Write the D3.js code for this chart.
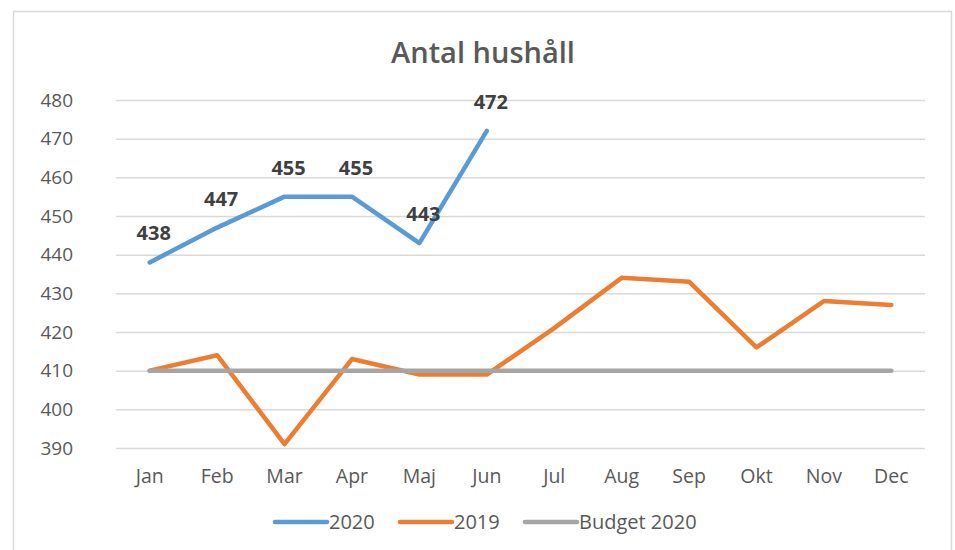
<!DOCTYPE html>
<html><head><meta charset="utf-8">
<script src="https://cdn.jsdelivr.net/npm/d3@7"></script>
<style>body{margin:0;background:#fff}svg{display:block}text{font-family:"Open Sans",sans-serif}</style>
</head><body>
<svg id="c" width="955" height="550"></svg>
<script>
const months = ["Jan","Feb","Mar","Apr","Maj","Jun","Jul","Aug","Sep","Okt","Nov","Dec"];
const values2020 = [438,447,455,455,443,472];
const values2019 = [410,414,391,413,409,409,421,434,433,416,428,427];
const budget2020 = [410,410,410,410,410,410,410,410,410,410,410,410];
const yTicks = [390,400,410,420,430,440,450,460,470,480];
const title = "Antal hushåll";
const seriesNames = ["2020","2019","Budget 2020"];
const colors = ["#5B9BD5","#ED7D31","#A5A5A5"];

const svg = d3.select("#c");
svg.append("rect").attr("x",13.5).attr("y",11.5).attr("width",938).attr("height",560)
  .attr("fill","#fff").attr("stroke","#D9D9D9").attr("stroke-width",1.5);

const x = d3.scaleBand().domain(months).range([116,925]);
const y = d3.scaleLinear().domain([390,480]).range([448,100]);
const cx = m => x(m) + x.bandwidth()/2;

svg.append("text").attr("x",483).attr("y",63).attr("text-anchor","middle")
  .attr("font-size",29).attr("font-weight",600).attr("fill","#595959").text(title);

// gridlines + y axis
const yAxis = d3.axisLeft(y).tickValues(yTicks).tickSize(-(925-116)).tickPadding(43);
const gy = svg.append("g").attr("transform","translate(116,0)").call(yAxis);
gy.select(".domain").remove();
gy.selectAll(".tick line").attr("stroke","#D9D9D9").attr("stroke-width",1.5);
gy.selectAll(".tick text").attr("font-size",19).attr("fill","#595959").attr("font-family","Open Sans");

const xAxis = d3.axisBottom(x).tickSize(0).tickPadding(21);
const gx = svg.append("g").attr("transform","translate(0,448)").call(xAxis);
gx.select(".domain").remove();
gx.selectAll(".tick text").attr("font-size",19.5).attr("fill","#595959").attr("font-family","Open Sans");

const line = d3.line().x((d,i)=>cx(months[i])).y(d=>y(d));
const data = [values2020, values2019, budget2020];
[0,1,2].forEach(k=>{
  svg.append("path").attr("d",line(data[k])).attr("fill","none")
    .attr("stroke",colors[k]).attr("stroke-width",4.5)
    .attr("stroke-linejoin","round").attr("stroke-linecap","round");
});

svg.selectAll("text.lbl").data(values2020).enter().append("text").attr("class","lbl")
  .attr("x",(d,i)=>cx(months[i])+4).attr("y",(d)=>y(d)-22)
  .attr("text-anchor","middle").attr("font-size",20).attr("font-weight",700)
  .attr("fill","#404040").text(d=>d);

// legend
const legX = [275,400,525];
seriesNames.forEach((n,i)=>{
  svg.append("line").attr("x1",legX[i]).attr("x2",legX[i]+52).attr("y1",522).attr("y2",522)
    .attr("stroke",colors[i]).attr("stroke-width",4.5).attr("stroke-linecap","round");
  svg.append("text").attr("x",legX[i]+54).attr("y",529).attr("font-size",20)
    .attr("fill","#595959").text(n);
});
</script>
</body></html>
